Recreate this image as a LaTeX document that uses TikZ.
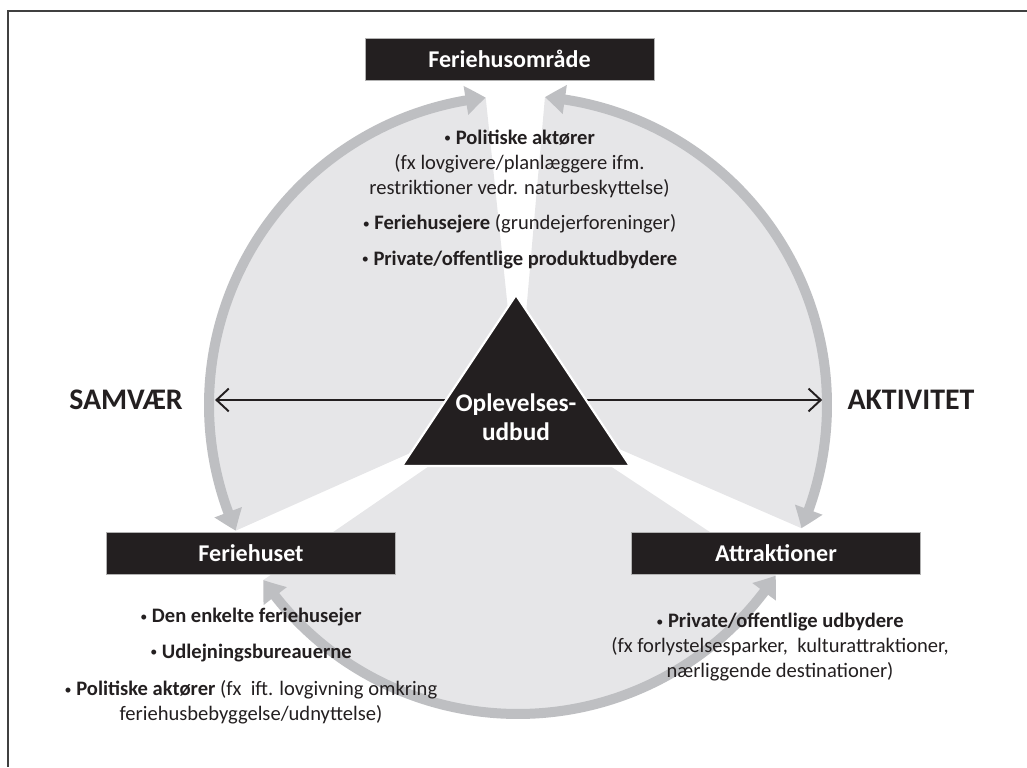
\documentclass[tikz,border=0pt]{standalone}
\usepackage{fontspec}
\setmainfont{Carlito}
\usetikzlibrary{positioning,arrows.meta,bending}

\definecolor{boxblack}{HTML}{231F20}
\definecolor{ringgray}{HTML}{BEBFC2}
\definecolor{sectorgray}{HTML}{E6E6E8}
\definecolor{framegray}{HTML}{404040}
\newcommand{\punkt}{\raisebox{0.7pt}{\fontsize{8}{8}\selectfont\textbullet}\ }

\begin{document}
\begin{tikzpicture}[x=0.02cm,y=0.02cm,
      box/.style={rectangle,fill=boxblack,draw=gray!60,line width=0.4pt,
                  text=white,font=\fontsize{13.7}{16}\selectfont\bfseries,
                  minimum width=5.78cm,minimum height=0.84cm,inner sep=0pt},
      info/.style={align=center,inner sep=0pt,text=boxblack,
                   font=\fontsize{11.7}{14.2}\selectfont},
      side/.style={inner sep=0pt,text=boxblack,
                   font=\fontsize{17}{20}\selectfont\bfseries},
      ring/.style={draw=ringgray,line width=0.2cm,
                   {Triangle[width=0.56cm,length=0.4cm,bend]}-{Triangle[width=0.56cm,length=0.4cm,bend]}},
      sector/.style={fill=sectorgray},
      single/.style={draw=boxblack,line width=1.1pt,
                     -{Straight Barb[length=7pt,width=13pt]}},
    ]
      \useasboundingbox (0,0) rectangle (1027,767);
      \draw[framegray,line width=0.9pt] (1027,756) -- (8,756) -- (8,0);

      \coordinate (centre) at (518,362);
      % grey pie pieces and the ring arrows
      \foreach \from/\to in {96/204,85/-23.5,214.5/326.5}
        \fill[sector] (centre) -- ++(\from:309) arc[start angle=\from,end angle=\to,radius=309] -- cycle;
      \foreach \from/\to in {96/204,85/-23.5,214.5/326.5}
        \draw[ring] (centre) ++(\from:309) arc[start angle=\from,end angle=\to,radius=309];

      \node[side] (samvaer) at (126,367) {SAMVÆR};
      \node[side] (aktivitet) at (911,367) {AKTIVITET};
      \coordinate[right=0.64cm of samvaer] (samvaerspids);
      \coordinate[left=0.5cm of aktivitet] (aktivitetspids);
      \coordinate (udbud) at (516,367);
      \path[single] (udbud) -- (samvaerspids);
      \path[single] (udbud) -- (aktivitetspids);

      \fill[boxblack,draw=white,line width=1.2pt] (402,301) -- (516,472) -- (630,301) -- cycle;
      \node[text=white,align=center,inner sep=0pt,
            font=\fontsize{14.4}{16.4}\selectfont\bfseries] (udbudtekst) at (516,350) {Oplevelses-\\udbud};

      \node[box] (omraade) at (509.5,708) {Feriehusområde};
      \node[box] (huset) at (251,213.5) {Feriehuset};
      \node[box] (attrak) at (776,213.5) {Attraktioner};

      \node[info,below=0.98cm of omraade,xshift=0.2cm] (omraadetekst) {
        \punkt\textbf{Politiske aktører}\\
        (fx lovgivere/planlæggere ifm.\\
        restriktioner vedr. naturbeskyttelse)\\[6pt]
        \punkt\textbf{Feriehusejere} (grundejerforeninger)\\[6pt]
        \punkt\textbf{Private/offentlige produktudbydere}
      };
      \node[info,below=0.66cm of huset] (husettekst) {
        \punkt\textbf{Den enkelte feriehusejer}\\[6pt]
        \punkt\textbf{Udlejningsbureauerne}\\[7pt]
        \punkt\textbf{Politiske aktører} (fx\ \ ift. lovgivning omkring\\
        feriehusbebyggelse/udnyttelse)
      };
      \node[info,below=0.76cm of attrak,xshift=0.08cm] (attraktekst) {
        \punkt\textbf{Private/offentlige udbydere}\\
        (fx forlystelsesparker,\ \ kulturattraktioner,\\
        nærliggende destinationer)
      };
    \end{tikzpicture}
\end{document}
